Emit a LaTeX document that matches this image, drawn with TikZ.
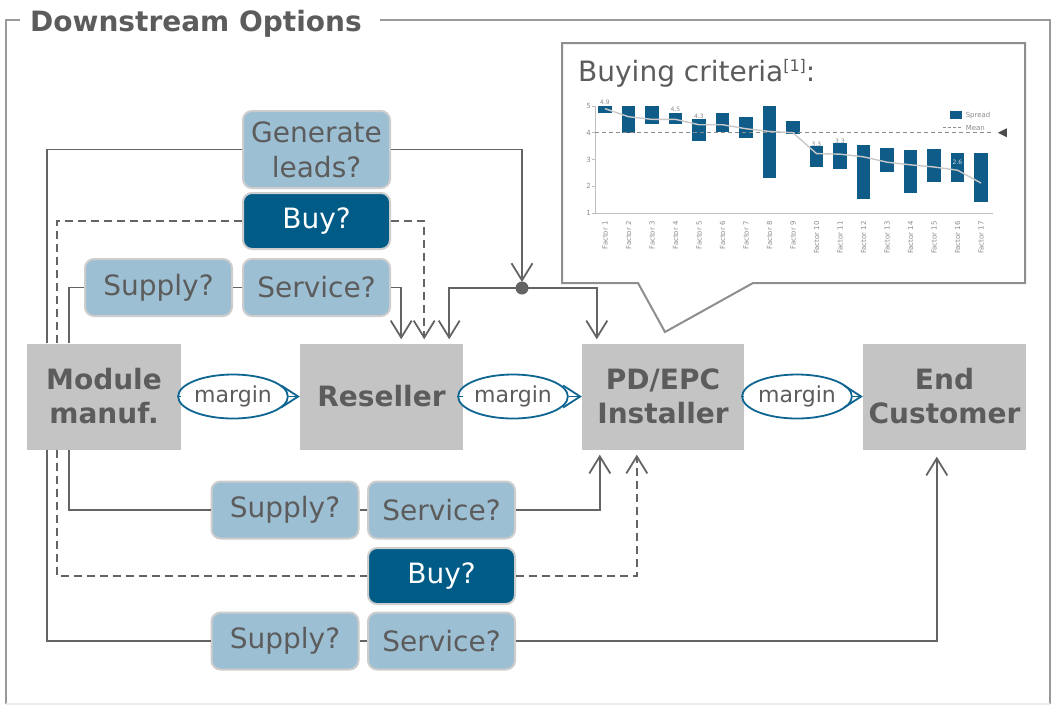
\documentclass[tikz,border=0pt]{standalone}
\usepackage{fontspec}
\setmainfont{DejaVu Sans}
\usetikzlibrary{arrows.meta,shapes.geometric}
\definecolor{framegray}{HTML}{9A9A9A}
\definecolor{boxgray}{HTML}{C4C4C4}
\definecolor{labelgray}{HTML}{5C5C5C}
\definecolor{qblue}{HTML}{9CBFD3}
\definecolor{qborder}{HTML}{CDCDCD}
\definecolor{buyblue}{HTML}{005B86}
\definecolor{linegray}{HTML}{646464}
\definecolor{marginblue}{HTML}{0E6592}
\definecolor{barblue}{HTML}{0F5C88}
\definecolor{calloutgray}{HTML}{8E8E8E}
\definecolor{meangray}{HTML}{C9C9C9}
\tikzset{
  stage/.style={fill=boxgray, draw=none, font=\fontsize{28}{34}\selectfont\bfseries,
    text=labelgray, align=center, inner sep=0pt},
  question/.style={fill=qblue, draw=qborder, line width=2pt, rounded corners=9pt,
    font=\fontsize{28}{35}\selectfont, text=labelgray, align=center,
    minimum width=147pt, minimum height=57pt, inner sep=0pt},
  buybox/.style={question, fill=buyblue, text=white},
  marginnode/.style={ellipse, draw=marginblue, line width=1.8pt, fill=white,
    minimum width=90pt, minimum height=44pt, inner sep=0pt,
    font=\fontsize{22}{24}\selectfont, text=labelgray},
  flow/.style={draw=marginblue, line width=1.8pt},
  flowarrow/.style={flow, -{Straight Barb[length=17pt,width=22pt]}},
  conn/.style={draw=linegray, line width=1.8pt},
  connarrow/.style={conn, -{Straight Barb[length=17pt,width=21pt]}},
  dashconn/.style={conn, dash pattern=on 8pt off 5pt},
  dasharrow/.style={dashconn, -{Straight Barb[length=17pt,width=21pt]}},
  tinytext/.style={font=\fontsize{7}{8}\selectfont, text=black!45, inner sep=1pt},
}
\begin{document}
\begin{tikzpicture}[x=1pt,y=-1pt]
\useasboundingbox (0,0) rectangle (1052,705);

% outer frame with title
\draw[framegray, line width=2pt] (20,20) -- (6,20) -- (6,704);
\draw[framegray, line width=2pt] (380,20) -- (1050,20) -- (1050,704);
\draw[black!8, line width=1.5pt] (6,704) -- (1050,704);
\node[anchor=base west, inner sep=0pt, font=\fontsize{28}{30}\selectfont\bfseries,
  text=labelgray] (title) at (30,31) {Downstream Options};

% callout with the buying-criteria chart
\draw[calloutgray, line width=2pt, fill=white]
  (562,43) -- (1025,43) -- (1025,283) -- (753,283) -- (665,332) -- (638,283)
  -- (562,283) -- cycle;
\node[anchor=base west, inner sep=0pt, font=\fontsize{28}{30}\selectfont,
  text=labelgray] (crit) at (578,81)
  {Buying criteria\raisebox{10pt}{\fontsize{16}{16}\selectfont[1]}:};

\begin{scope}[shift={(581.5,239.75)}, x=23.5pt, y=26.75pt]
  % axes and ticks
  \draw[black!25, line width=0.8pt] (0.574,5) -- (0.574,1) -- (17.5,1);
  \foreach \v in {1,...,5} {
    \draw[black!25, line width=0.8pt] (0.574,\v) -- ++(-3pt,0);
    \node[tinytext, anchor=east] at (0.45,\v) {\v};
  }
  % spread bars
  \foreach \i/\lo/\hi in {1/4.72/5.0, 2/4.0/5.0, 3/4.32/5.0, 4/4.32/4.75,
      5/3.7/4.5, 6/4.02/4.73, 7/3.81/4.58, 8/2.3/5.0, 9/3.94/4.44,
      10/2.73/3.5, 11/2.64/3.6, 12/1.51/3.53, 13/2.52/3.44, 14/1.74/3.36,
      15/2.16/3.39, 16/2.15/3.23, 17/1.42/3.23}
    \fill[barblue] (\i-0.28,\lo) rectangle (\i+0.28,\hi);
  % reference level
  \draw[black!45, line width=1pt, dash pattern=on 4pt off 3pt] (0.574,4) -- (17.45,4);
  \fill[black!70] (17.72,4) -- ++(9pt,4.5pt) -- ++(0,-9pt) -- cycle;
  % mean values
  \draw[meangray, line width=1.4pt] plot coordinates {(1,4.9) (2,4.6) (3,4.5)
    (4,4.5) (5,4.3) (6,4.3) (7,4.15) (8,4.05) (9,4.0) (10,3.22) (11,3.2)
    (12,3.1) (13,2.9) (14,2.8) (15,2.72) (16,2.6) (17,2.12)};
  % value labels
  \node[tinytext, anchor=south, font=\fontsize{6}{7}\selectfont] at (1,5.0) {4.9};
  \node[tinytext, anchor=south, font=\fontsize{6}{7}\selectfont] at (4,4.75) {4.5};
  \node[tinytext, anchor=south, font=\fontsize{6}{7}\selectfont] at (5,4.5) {4.3};
  \node[tinytext, anchor=south, font=\fontsize{6}{7}\selectfont] at (10,3.45) {3.3};
  \node[tinytext, anchor=south, font=\fontsize{6}{7}\selectfont] at (11,3.55) {3.3};
  \node[tinytext, anchor=south, font=\fontsize{6}{7}\selectfont, text=white!80!barblue] at (16,2.75) {2.6};
  % category labels
  \foreach \i in {1,...,17}
    \node[tinytext, rotate=90, anchor=east, inner sep=0pt] at (\i,0.7) {Factor \i};
  % legend
  \fill[barblue] (15.68,4.51) rectangle (16.19,4.81);
  \node[tinytext, anchor=west] at (16.3,4.66) {Spread};
  \draw[black!45, line width=1pt, dash pattern=on 3pt off 2pt] (15.38,4.18) -- (16.19,4.18);
  \node[tinytext, anchor=west] at (16.3,4.18) {Mean};
\end{scope}

% value chain stages
\node[stage, minimum width=154pt, minimum height=106pt] (mod) at (104,396.5) {Module\\manuf.};
\node[stage, minimum width=163pt, minimum height=106pt] (res) at (381.5,396.5) {Reseller};
\node[stage, minimum width=162pt, minimum height=106pt] (pd) at (663,396.5) {PD/EPC\\Installer};
\node[stage, minimum width=163pt, minimum height=106pt] (cust) at (944.5,396.5) {End\\Customer};

% margins between stages
\node[marginnode] (m1) at (233,396.5) {margin};
\node[marginnode] (m2) at (513,396.5) {margin};
\node[marginnode] (m3) at (797,396.5) {margin};
\draw[flow] (mod.east) -- (m1.west);
\draw[flowarrow] (m1.east) -- (res.west);
\draw[flow] (res.east) -- (m2.west);
\draw[flowarrow] (m2.east) -- (pd.west);
\draw[flow] (pd.east) -- (m3.west);
\draw[flowarrow] (m3.east) -- (cust.west);

% options above the chain
\node[question, minimum height=77pt] (gen) at (316.5,149.5) {Generate\\leads?};
\node[buybox, minimum height=56pt] (buyT) at (316.5,221) {Buy?};
\node[question] (supT) at (158.5,287.5) {Supply?};
\node[question] (serT) at (316.5,287.5) {Service?};

% options below the chain
\node[question] (supA) at (285,510) {Supply?};
\node[question] (serA) at (441.5,510) {Service?};
\node[buybox, minimum height=56pt] (buyB) at (441.5,576) {Buy?};
\node[question] (supB) at (285,641) {Supply?};
\node[question] (serB) at (441.5,641) {Service?};

% lead generation splits to reseller and installer
\coordinate (hub) at (522,288);
\draw[conn] ([xshift=20pt]mod.north west) |- (gen.west);
\draw[connarrow, shorten >=6pt] (gen.east) -| (hub);
\draw[connarrow, shorten >=4pt] (hub) -| ([xshift=-14pt]res.north east);
\draw[connarrow, shorten >=4pt] (hub) -| ([xshift=15pt]pd.north west);
\fill[linegray] (hub) circle (6.5pt);

% routes into the reseller
\draw[dashconn] ([xshift=30pt]mod.north west) |- (buyT.west);
\draw[dasharrow, shorten >=4pt] (buyT.east) -| ([xshift=-39pt]res.north east);
\draw[conn] ([xshift=42pt]mod.north west) |- (supT.west);
\draw[conn] (supT.east) -- (serT.west);
\draw[connarrow, shorten >=4pt] (serT.east) -| ([xshift=-62pt]res.north east);

% routes into the installer and the end customer
\draw[conn] ([xshift=42pt]mod.south west) |- (supA.west);
\draw[conn] (supA.east) -- (serA.west);
\draw[connarrow, shorten >=5pt] (serA.east) -| ([xshift=18pt]pd.south west);
\draw[dashconn] ([xshift=30pt]mod.south west) |- (buyB.west);
\draw[dasharrow, shorten >=5pt] (buyB.east) -| ([xshift=55pt]pd.south west);
\draw[conn] ([xshift=20pt]mod.south west) |- (supB.west);
\draw[conn] (supB.east) -- (serB.west);
\draw[connarrow, shorten >=7pt] (serB.east) -| ([xshift=74pt]cust.south west);
\end{tikzpicture}
\end{document}
